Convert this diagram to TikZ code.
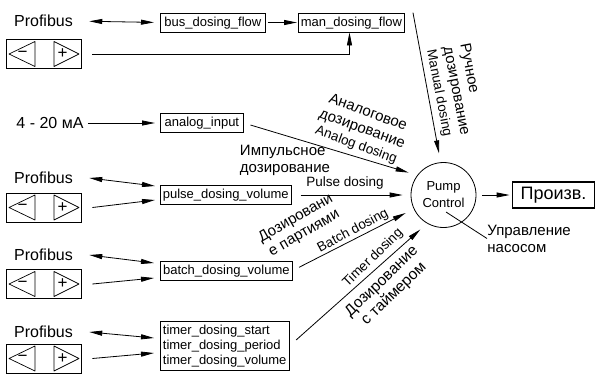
\documentclass[tikz,border=0pt]{standalone}
\usepackage{fontspec}
\setmainfont{Liberation Sans}
\usetikzlibrary{arrows.meta}
\newcommand\kpad[3]{%
  \node[keybox] (#1) at (#2,#3) {};
  \draw[tri] ([shift={(-34.5,0)}]#1.center) -- ([shift={(-8.5,-12.5)}]#1.center) -- ([shift={(-8.5,12.5)}]#1.center) -- cycle;
  \draw[tri] ([shift={(35.5,0)}]#1.center) -- ([shift={(10.5,-12.5)}]#1.center) -- ([shift={(10.5,12.5)}]#1.center) -- cycle;
  \node[pm] (#1m) at ([shift={(-21,0)}]#1.center) {−};
  \node[pm] (#1p) at ([shift={(19,0)}]#1.center) {+};
}
\newcommand\engsz{\fontsize{13.5}{16}\selectfont}
\begin{document}
\begin{tikzpicture}[x=1pt,y=-1pt, line width=0.8pt,
  >={Triangle[length=13pt,width=5pt]},
  var/.style={draw, font=\fontsize{13}{15}\selectfont, inner xsep=2.5pt, inner ysep=3pt, text height=10pt, text depth=3pt, anchor=west},
  timbox/.style={draw, font=\fontsize{13}{14.7}\selectfont, inner xsep=2.5pt, inner ysep=4pt, align=left, anchor=west},
  src/.style={font=\fontsize{16}{18}\selectfont, inner sep=0pt},
  keybox/.style={draw, minimum width=75pt, minimum height=29pt, inner sep=0pt},
  tri/.style={line width=0.7pt, line join=round},
  pm/.style={font=\fontsize{17}{17}\selectfont, inner sep=0pt},
  lbl/.style={font=\fontsize{15}{17}\selectfont, align=center, inner sep=0pt},
  elbl/.style={font=\engsz, inner sep=0pt},
]
\useasboundingbox (0,0) rectangle (597,373);

% sources
\node[src] (pb1) at (43.5,21) {Profibus};
\kpad{kp1}{43.5}{54}
\node[src] (ma) at (50,123) {4 - 20 мА};
\node[src] (pb2) at (43.5,178) {Profibus};
\kpad{kp2}{43.5}{207.5}
\node[src] (pb3) at (43.5,255) {Profibus};
\kpad{kp3}{43.5}{284}
\node[src] (pb4) at (43.5,332) {Profibus};
\kpad{kp4}{43.5}{358.5}

% variables
\node[var, minimum width=105pt] (bus) at (160,22.5) {bus\_dosing\_flow};
\node[var, minimum width=106pt] (man) at (298,22.5) {man\_dosing\_flow};
\node[var, minimum width=83pt] (ana) at (160,123) {analog\_input};
\node[var, minimum width=129pt] (pul) at (160,195) {pulse\_dosing\_volume};
\node[var, minimum width=132pt] (bat) at (160,270.5) {batch\_dosing\_volume};
\node[timbox, minimum width=128pt] (tim) at (160,346) {timer\_dosing\_start\\timer\_dosing\_period\\timer\_dosing\_volume};

% pump control and output
\node[draw, circle, minimum size=65pt, inner sep=0pt, font=\fontsize{13}{17}\selectfont, align=center] (pc) at (443.5,195) {Pump\\Control};
\node[draw, line width=1.8pt, minimum width=82pt, minimum height=26pt, inner sep=0pt, font=\fontsize{18}{20}\selectfont] (prod) at (553.5,195) {Произв.};
\coordinate (pcin) at (446,212);
\node[lbl, align=left, anchor=west] (lnote) at (487,238.5) {Управление\\насосом};

% connectors on the left
\draw[<->, shorten <=16pt, shorten >=6pt] (pb1.east) -- (bus.west);
\draw[->, shorten <=2pt, shorten >=1pt] (bus.east) -- (man.west);
\draw[->] ([xshift=11]kp1.east) -| ([xshift=-2]man.south);
\draw[->, shorten <=4pt, shorten >=5pt] (ma.east) -- (ana.west);

\draw[<->] ([xshift=16]pb2.east) -- ([shift={(-5,-9)}]pul.west);
\draw[->] ([xshift=11]kp2.east) -- ([shift={(-5,5)}]pul.west);
\draw[<->] ([xshift=16]pb3.east) -- ([shift={(-6,-7.5)}]bat.west);
\draw[->] ([xshift=11]kp3.east) -- ([shift={(-6,7.5)}]bat.west);
\draw[<->] ([xshift=16]pb4.east) -- ([shift={(-6,-8)}]tim.west);
\draw[->] ([xshift=11]kp4.east) -- ([shift={(-6,7)}]tim.west);

% connectors to pump control
\coordinate (mstart) at ([xshift=8]man.north east);
\draw[->, shorten >=9pt] (mstart) -- (pc.95);
\draw[->, shorten <=7pt, shorten >=9pt] (ana.east) -- (pc.143);
\draw[->, shorten <=9pt, shorten >=8pt] (pul.east) -- (pc.180);
\draw[->, shorten <=7pt, shorten >=9pt] (bat.east) -- (pc.205);
\draw[->, shorten <=9pt, shorten >=9pt] (tim.east) -- (pc.240);
\draw[->, shorten <=6pt, shorten >=2pt] (pc.east) -- (prod.west);
\draw (pcin) -- (lnote.west);

% labels
\node[lbl, align=left, rotate=-79] (lman) at (456,91) {Ручное\\дозирование\\\engsz Manual dosing};
\node[lbl, rotate=-20] (lana) at (362,129) {Аналоговое\\дозирование\\\engsz Analog dosing};
\node[lbl, align=left] (limp) at (285,160.5) {Импульсное\\дозирование};
\node[elbl] (lpul) at (345,183) {Pulse dosing};
\node[lbl, rotate=30] (lbat) at (300,226) {Дозировани\\е партиями};
\node[elbl, rotate=28] (lbatd) at (353,231) {Batch dosing};
\node[elbl, rotate=44] (ltim) at (373,258) {Timer dosing};
\node[lbl, font=\fontsize{15.5}{17.5}\selectfont, rotate=44] (ltimr) at (388,288) {Дозирование\\с таймером};
\end{tikzpicture}
\end{document}
